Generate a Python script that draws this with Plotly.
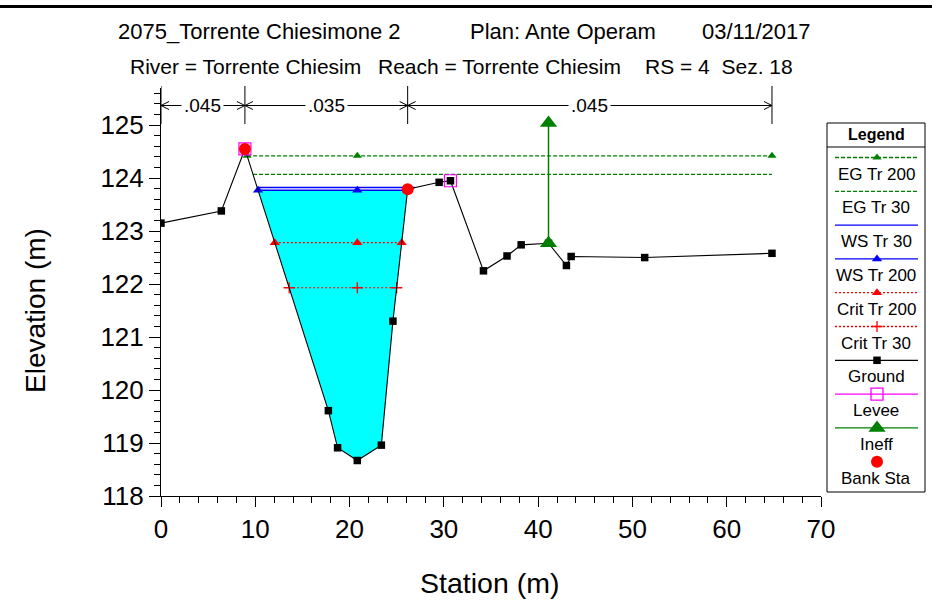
import numpy as np
import plotly.graph_objects as go

# ---------------- data ----------------
ground_sta = [0.0, 6.4, 8.9, 17.75, 18.73, 20.82, 23.37, 24.6, 26.16, 29.5, 30.7,
              34.2, 36.7, 38.2, 41.1, 43.0, 43.5, 51.3, 64.8]
ground_elev = [123.15, 123.38, 124.55, 119.61, 118.91, 118.67, 118.96, 121.30, 123.79,
               123.92, 123.95, 122.25, 122.53, 122.74, 122.77, 122.35, 122.52, 122.50, 122.58]

levee_sta = [8.9, 30.7]
levee_elev = [124.55, 123.95]

bank_sta = [8.9, 26.16]
bank_elev = [124.55, 123.79]

ineff_sta = [41.1]
ineff_elev = [125.04]

eg_tr200 = 124.42
eg_tr30 = 124.07
ws_tr30 = 123.82
ws_tr200 = 123.77
crit_tr200 = 122.78
crit_tr30 = 121.93

n_break_sta = [0.0, 8.9, 26.16, 64.8]
n_values = [".045", ".035", ".045"]

title_line1 = ["2075_Torrente Chiesimone 2", "Plan: Ante Operam", "03/11/2017"]
title_line2 = ["River = Torrente Chiesim", "Reach = Torrente Chiesim", "RS = 4&nbsp;&nbsp;Sez. 18"]

x_ticks = [0, 10, 20, 30, 40, 50, 60, 70]
y_ticks = [118, 119, 120, 121, 122, 123, 124, 125]

legend_names = ["EG Tr 200", "EG Tr 30", "WS Tr 30", "WS Tr 200", "Crit Tr 200",
                "Crit Tr 30", "Ground", "Levee", "Ineff", "Bank Sta"]

# ---------------- helpers ----------------
W, H = 932, 605
FONT = "Arial, Liberation Sans, Helvetica, sans-serif"
GREEN = "#008000"
BLUE = "#0000FF"
RED = "#FF0000"
MAG = "#FF00FF"
CYAN = "#00FFFF"

gs = np.array(ground_sta)
ge = np.array(ground_elev)


def px_x(p):
    return p / W


def px_y(p):
    return 1 - p / H


def crossings(level):
    imin = int(np.argmin(ge))
    i = imin
    while i > 0 and ge[i - 1] < level:
        i -= 1
    if i == 0:
        left = gs[0]
    else:
        left = gs[i - 1] + (level - ge[i - 1]) * (gs[i] - gs[i - 1]) / (ge[i] - ge[i - 1])
    j = imin
    n = len(gs)
    while j < n - 1 and ge[j + 1] < level:
        j += 1
    if j == n - 1:
        right = gs[-1]
    else:
        right = gs[j] + (level - ge[j]) * (gs[j + 1] - gs[j]) / (ge[j + 1] - ge[j])
    return float(left), float(right), i, j


thalweg = float(gs[int(np.argmin(ge))])

fig = go.Figure()

# water fill (WS Tr 200)
l, r, i, j = crossings(ws_tr200)
fx = [l] + list(gs[i:j + 1]) + [r, l]
fy = [ws_tr200] + list(ge[i:j + 1]) + [ws_tr200, ws_tr200]
fig.add_trace(go.Scatter(x=fx, y=fy, mode="lines", fill="toself", fillcolor=CYAN,
                         line=dict(width=0, color=CYAN), hoverinfo="skip", showlegend=False))


def profile(level, color, dash, symbol, msize, width=1.2, markers=True, mline=None):
    l, r, _, _ = crossings(level)
    xs = [l, thalweg, r]
    ys = [level] * 3
    mk = dict(symbol=symbol, size=msize, color=color)
    if mline:
        mk["line"] = dict(color=color, width=mline)
    fig.add_trace(go.Scatter(x=xs, y=ys, mode="lines+markers" if markers else "lines",
                             line=dict(color=color, width=width, dash=dash),
                             marker=mk, showlegend=False))


profile(eg_tr200, GREEN, "4px,2px", "triangle-up", 8)
profile(eg_tr30, GREEN, "4px,2px", "triangle-up", 8, markers=False)
profile(ws_tr30, BLUE, "solid", "triangle-up", 9, width=1.5, markers=False)
profile(ws_tr200, BLUE, "solid", "triangle-up", 9, width=1.5)
profile(crit_tr200, RED, "2px,2px", "triangle-up", 9)
profile(crit_tr30, RED, "2px,2px", "cross-thin", 8, mline=1.3)

# ground
fig.add_trace(go.Scatter(x=ground_sta, y=ground_elev, mode="lines+markers",
                         line=dict(color="black", width=1.1),
                         marker=dict(symbol="square", size=7.5, color="black"), showlegend=False))
# levee
fig.add_trace(go.Scatter(x=levee_sta, y=levee_elev, mode="markers",
                         marker=dict(symbol="square-open", size=12, color=MAG,
                                     line=dict(color=MAG, width=1.2)), showlegend=False))
# ineffective
for s, e in zip(ineff_sta, ineff_elev):
    gbot = float(np.interp(s, gs, ge))
    fig.add_trace(go.Scatter(x=[s, s], y=[gbot, e], mode="lines+markers",
                             line=dict(color=GREEN, width=1.5),
                             marker=dict(symbol="triangle-up", size=15, color=GREEN),
                             showlegend=False))
# bank stations
fig.add_trace(go.Scatter(x=bank_sta, y=bank_elev, mode="markers",
                         marker=dict(symbol="circle", size=12, color=RED), showlegend=False))

# ---------------- legend (overlay pixel axes) ----------------
LX0, LX1, LXC = 835, 918, 877
leg_specs = [
    dict(color=GREEN, dash="4px,2px", symbol="triangle-up", size=8),
    dict(color=GREEN, dash="4px,2px", symbol=None, size=0),
    dict(color=BLUE, dash="solid", symbol=None, size=0),
    dict(color=BLUE, dash="solid", symbol="triangle-up", size=9),
    dict(color=RED, dash="2px,2px", symbol="triangle-up", size=9),
    dict(color=RED, dash="2px,2px", symbol="cross-thin", size=8),
    dict(color="black", dash="solid", symbol="square", size=7.5),
    dict(color=MAG, dash="solid", symbol="square-open", size=12),
    dict(color=GREEN, dash="solid", symbol="triangle-up", size=15),
    dict(color=RED, dash=None, symbol="circle", size=12),
]
annotations = []
for k, (name, sp) in enumerate(zip(legend_names, leg_specs)):
    ly = 157.5 + 33.8 * k
    if sp["dash"] is not None:
        fig.add_trace(go.Scatter(x=[LX0, LX1], y=[ly, ly], mode="lines", xaxis="x2", yaxis="y2",
                                 line=dict(color=sp["color"], width=1.3, dash=sp["dash"]),
                                 showlegend=False, hoverinfo="skip"))
    if sp["symbol"]:
        mk = dict(symbol=sp["symbol"], size=sp["size"], color=sp["color"])
        if sp["symbol"] in ("cross-thin", "square-open"):
            mk["line"] = dict(color=sp["color"], width=1.3)
        fig.add_trace(go.Scatter(x=[LXC], y=[ly], mode="markers", xaxis="x2", yaxis="y2",
                                 marker=mk, showlegend=False, hoverinfo="skip"))
    annotations.append(dict(x=LXC - 1, y=ly + 16.5, xref="x2", yref="y2", text=name,
                            showarrow=False, font=dict(family=FONT, size=17, color="black"),
                            xanchor="center", yanchor="middle"))
annotations.append(dict(x=876, y=134, xref="x2", yref="y2", text="<b>Legend</b>",
                        showarrow=False, font=dict(family=FONT, size=16, color="black"),
                        xanchor="center", yanchor="middle"))

shapes = [
    # top thick border
    dict(type="rect", xref="paper", yref="paper", x0=0, x1=1, y0=px_y(8), y1=px_y(5),
         fillcolor="black", line=dict(width=0)),
    # legend box
    dict(type="rect", xref="x2", yref="y2", x0=827, x1=925, y0=123, y1=492,
         line=dict(color="black", width=1), fillcolor="rgba(0,0,0,0)"),
    dict(type="line", xref="x2", yref="y2", x0=827, x1=925, y0=147, y1=147,
         line=dict(color="black", width=1)),
]

# ---------------- Manning's n dimension lines ----------------
DIM_Y = px_y(105.5)
for s in n_break_sta:
    shapes.append(dict(type="line", xref="x", yref="paper", x0=s, x1=s,
                       y0=px_y(86), y1=px_y(124), line=dict(color="black", width=1)))
shapes.append(dict(type="line", xref="x", yref="paper", x0=n_break_sta[0], x1=n_break_sta[-1],
                   y0=DIM_Y, y1=DIM_Y, line=dict(color="black", width=1)))
for a, b, lab in zip(n_break_sta[:-1], n_break_sta[1:], n_values):
    shapes.append(dict(type="path", xref="x", yref="paper", xsizemode="pixel", ysizemode="pixel",
                       xanchor=a, yanchor=DIM_Y, path="M 8,4 L 0,0 L 8,-4",
                       line=dict(color="black", width=1)))
    shapes.append(dict(type="path", xref="x", yref="paper", xsizemode="pixel", ysizemode="pixel",
                       xanchor=b, yanchor=DIM_Y, path="M -8,4 L 0,0 L -8,-4",
                       line=dict(color="black", width=1)))
    annotations.append(dict(x=(a + b) / 2, y=DIM_Y, xref="x", yref="paper", text=lab,
                            showarrow=False, bgcolor="white", borderpad=2,
                            font=dict(family=FONT, size=19, color="black"),
                            xanchor="center", yanchor="middle"))

# ---------------- titles ----------------
tfont = dict(family=FONT, size=22, color="black")
tfont2 = dict(family=FONT, size=21, color="black")
annotations += [
    dict(x=px_x(116), y=px_y(32), xref="paper", yref="paper", text=title_line1[0],
         showarrow=False, font=tfont, xanchor="left", yanchor="middle"),
    dict(x=px_x(468), y=px_y(32), xref="paper", yref="paper", text=title_line1[1],
         showarrow=False, font=tfont, xanchor="left", yanchor="middle"),
    dict(x=px_x(812), y=px_y(32), xref="paper", yref="paper", text=title_line1[2],
         showarrow=False, font=tfont, xanchor="right", yanchor="middle"),
    dict(x=px_x(128), y=px_y(67), xref="paper", yref="paper", text=title_line2[0],
         showarrow=False, font=tfont2, xanchor="left", yanchor="middle"),
    dict(x=px_x(376), y=px_y(67), xref="paper", yref="paper", text=title_line2[1],
         showarrow=False, font=tfont2, xanchor="left", yanchor="middle"),
    dict(x=px_x(795), y=px_y(67), xref="paper", yref="paper", text=title_line2[2],
         showarrow=False, font=tfont2, xanchor="right", yanchor="middle"),
    dict(x=px_x(35), y=px_y(311), xref="paper", yref="paper", text="Elevation (m)",
         textangle=-90, showarrow=False, font=dict(family=FONT, size=28, color="black"),
         xanchor="center", yanchor="middle"),
    dict(x=px_x(490), y=px_y(583), xref="paper", yref="paper", text="Station (m)",
         showarrow=False, font=dict(family=FONT, size=28.5, color="black"),
         xanchor="center", yanchor="middle"),
]

fig.update_layout(
    width=W, height=H,
    margin=dict(l=0, r=0, t=0, b=0, pad=0),
    paper_bgcolor="white", plot_bgcolor="rgba(0,0,0,0)",
    showlegend=False,
    xaxis=dict(domain=[161 / W, 821 / W], range=[0, 70], anchor="y",
               tickvals=x_ticks, ticks="outside", ticklen=10, tickwidth=1, tickcolor="black",
               showline=True, linecolor="black", linewidth=1, showgrid=False, zeroline=False,
               tickfont=dict(family=FONT, size=26, color="black"),
               minor=dict(dtick=2, ticks="outside", ticklen=6, tickcolor="black", showgrid=False),
               automargin=False, fixedrange=True),
    yaxis=dict(domain=[(H - 496) / H, (H - 88) / H], range=[118, 125.7], anchor="x",
               tickvals=y_ticks, ticks="outside", ticklen=11, tickwidth=1, tickcolor="black",
               showline=True, linecolor="black", linewidth=1, showgrid=False, zeroline=False,
               tickfont=dict(family=FONT, size=26, color="black"),
               minor=dict(dtick=0.2, tick0=118, ticks="outside", ticklen=6, tickcolor="black",
                          showgrid=False),
               automargin=False, fixedrange=True),
    xaxis2=dict(domain=[0, 1], range=[0, W], anchor="y2", visible=False, fixedrange=True),
    yaxis2=dict(domain=[0, 1], range=[H, 0], anchor="x2", visible=False, fixedrange=True),
    shapes=shapes,
    annotations=annotations,
)

fig.write_html("out.html", config={"displayModeBar": False},
               post_script="document.body.style.margin='0';document.body.style.overflow='hidden';")
